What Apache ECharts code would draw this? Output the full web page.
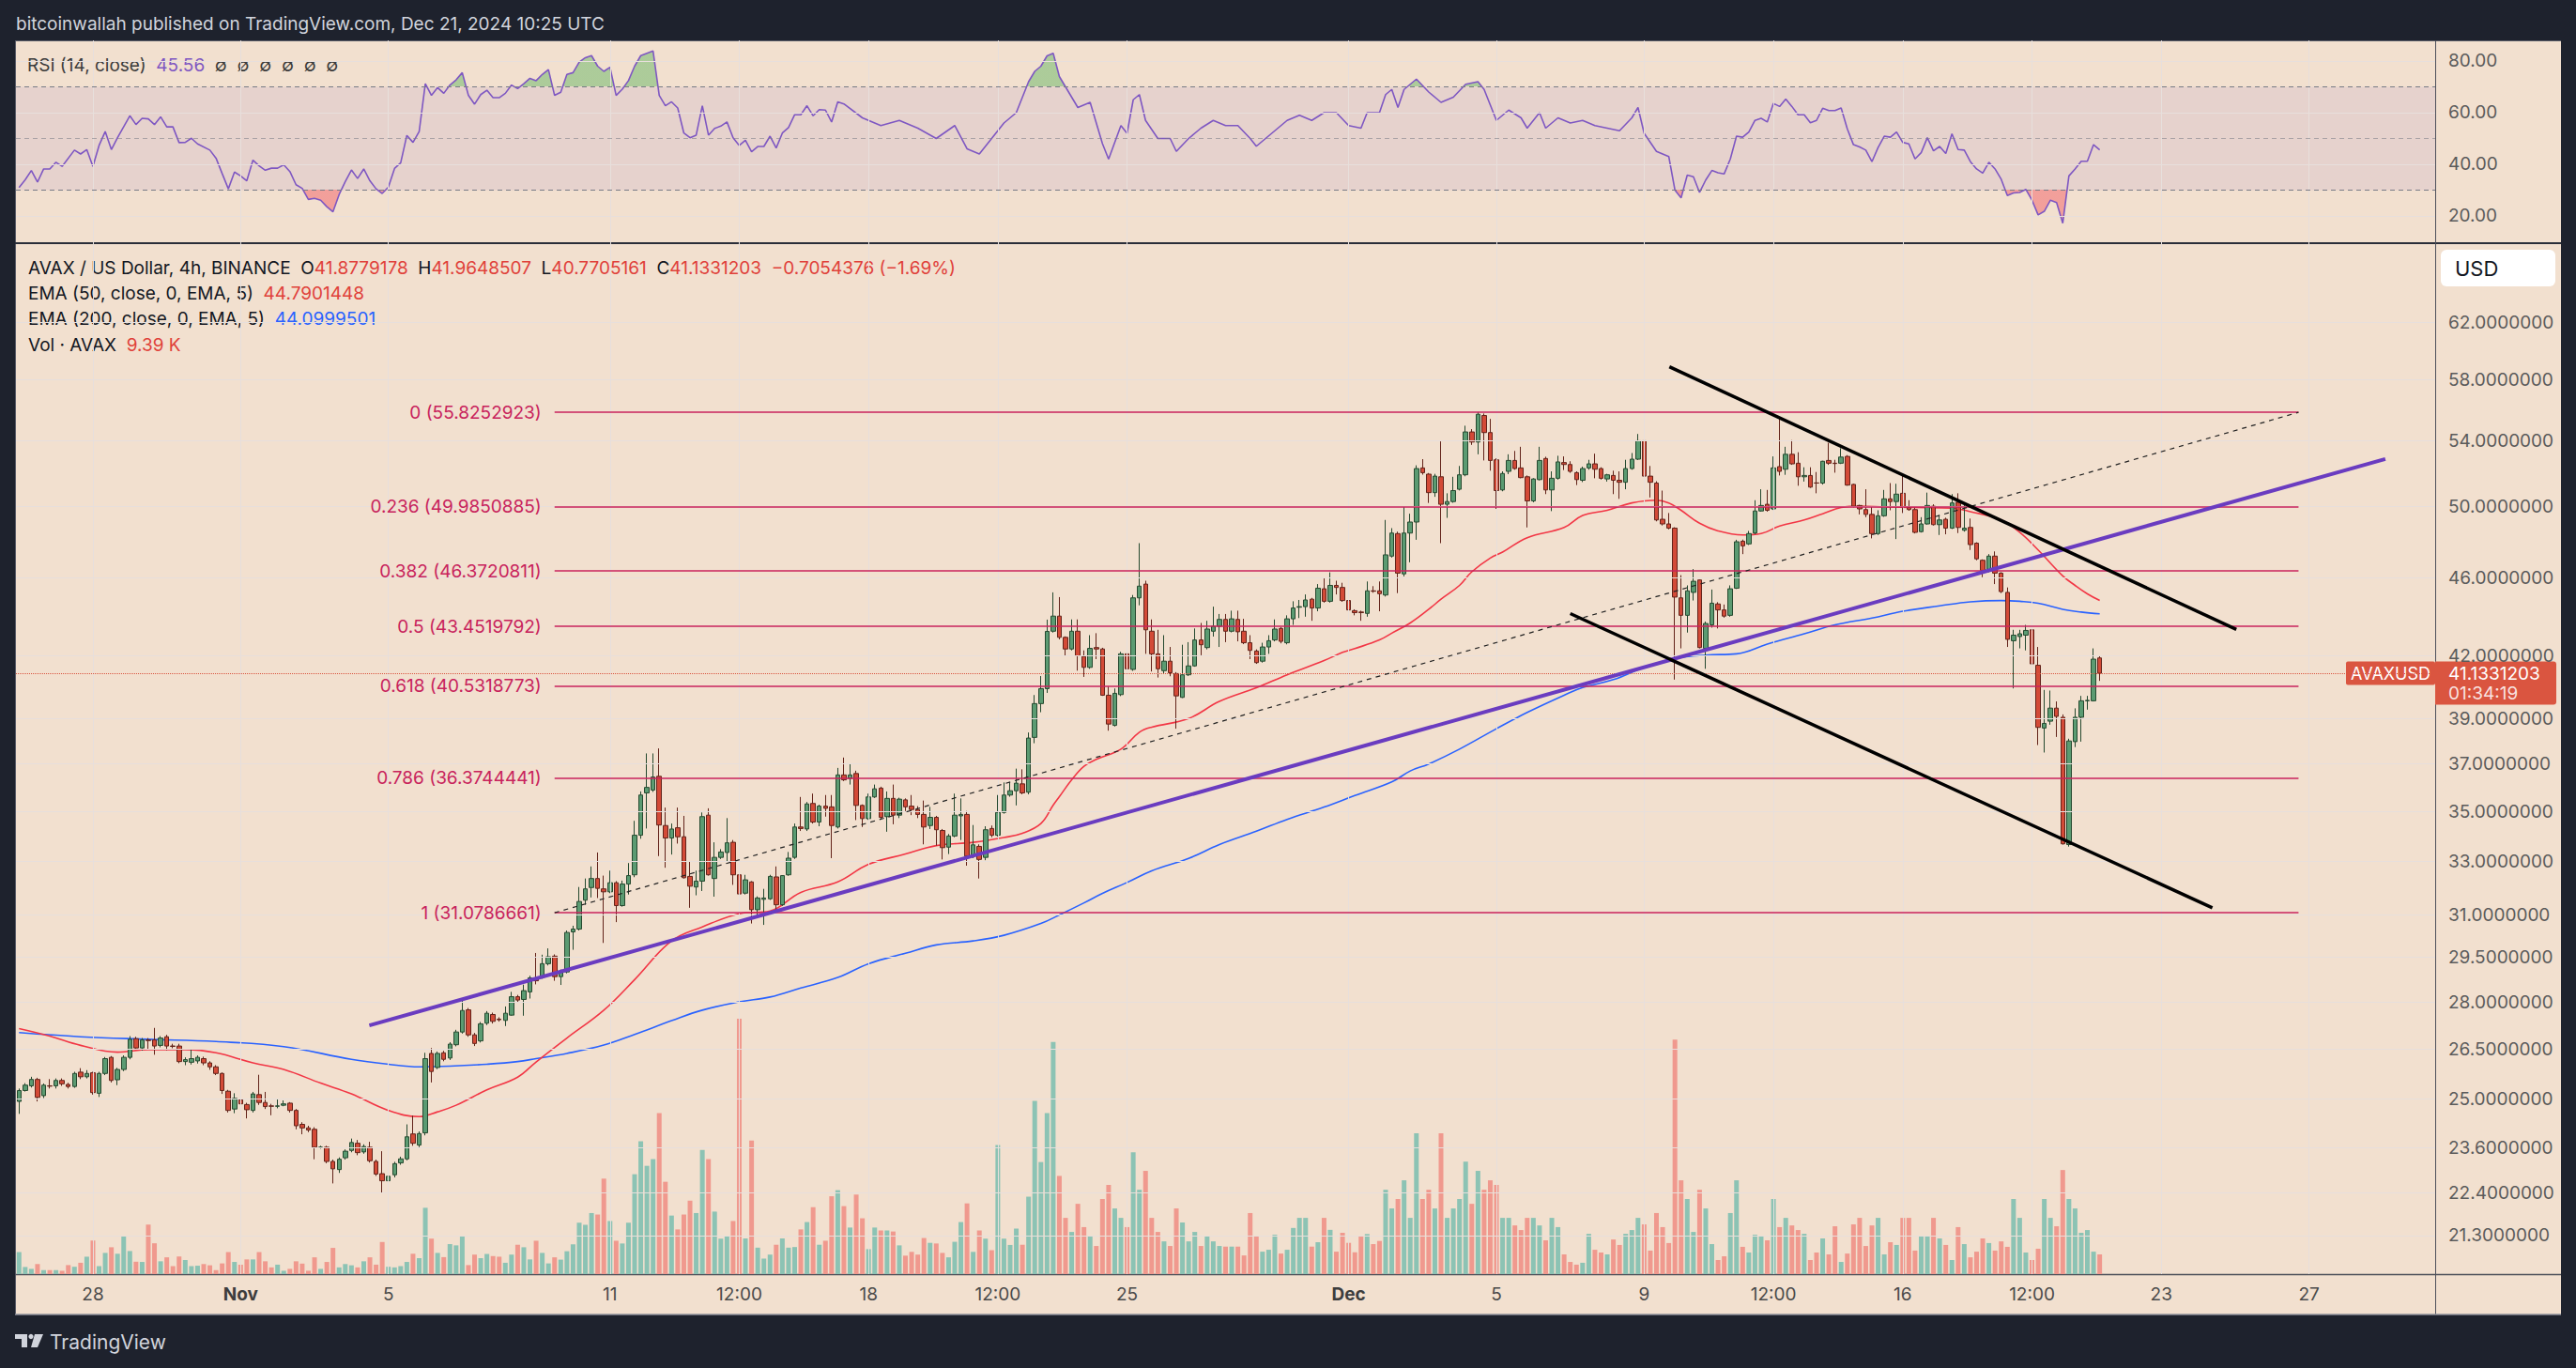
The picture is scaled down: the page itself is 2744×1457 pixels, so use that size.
<!DOCTYPE html>
<html><head><meta charset="utf-8">
<script src="https://cdn.jsdelivr.net/npm/echarts@6/dist/echarts.min.js"></script>
<style>
html,body{margin:0;padding:0;background:#1e222d;width:2744px;height:1457px;overflow:hidden;}
#panel{position:absolute;left:16px;top:43px;width:2712px;height:1357px;background:#f2e0cf;}
#c{position:absolute;left:0;top:0;width:2744px;height:1457px;}
</style>
</head><body><div id="panel"></div><div id="c"></div>
<script>
// ---------------- DATA ----------------
// 4h candles AVAX/USD, Oct 26 00:00 -> Dec 21 08:00 : [open, close, low, high]
const ohlc = [
[24.92,25.24,24.56,25.30],[25.24,25.40,25.21,25.46],[25.38,25.57,25.33,25.65],[25.57,25.04,24.92,25.62],[25.09,25.40,25.02,25.45],
[25.38,25.37,25.30,25.58],[25.38,25.54,25.30,25.60],[25.54,25.44,25.38,25.60],[25.42,25.36,25.30,25.47],[25.36,25.75,25.32,25.80],
[25.79,25.65,25.58,25.91],[25.65,25.75,25.60,25.85],[25.77,25.18,25.12,25.80],[25.16,25.75,25.05,25.80],[25.75,26.20,25.70,26.25],
[26.24,25.54,25.48,26.28],[25.56,25.87,25.40,25.92],[25.87,26.24,25.82,26.30],[26.24,26.80,26.18,26.90],[26.82,26.53,26.48,26.88],
[26.53,26.78,26.45,26.84],[26.78,26.76,26.48,26.84],[26.78,26.59,26.32,27.16],[26.61,26.84,26.55,26.90],[26.88,26.59,26.46,26.94],
[26.59,26.58,26.52,26.66],[26.59,26.11,26.06,26.66],[26.11,26.17,26.00,26.24],[26.09,26.20,26.02,26.48],[26.13,26.24,26.05,26.30],
[26.20,26.07,26.00,26.26],[26.07,25.95,25.86,26.12],[25.95,25.75,25.70,26.00],[25.75,25.24,25.14,25.78],[25.22,24.66,24.60,25.26],
[24.70,25.01,24.58,25.16],[24.97,24.85,24.78,25.05],[24.83,24.68,24.43,24.88],[24.66,25.14,24.60,25.20],[25.12,24.89,24.82,25.71],
[24.89,24.77,24.70,25.20],[24.79,24.78,24.52,24.85],[24.78,24.79,24.72,25.00],[24.81,24.85,24.78,24.95],[24.87,24.66,24.60,24.90],
[24.66,24.22,24.12,24.70],[24.26,24.16,23.98,24.32],[24.16,24.10,24.04,24.22],[24.12,23.62,23.29,24.18],[23.62,23.62,23.58,23.66],
[23.62,23.23,23.18,23.66],[23.23,23.03,22.64,23.28],[23.01,23.29,22.92,23.34],[23.33,23.51,23.28,23.56],[23.53,23.75,23.48,23.86],
[23.73,23.47,23.40,23.82],[23.49,23.64,23.44,23.70],[23.62,23.25,23.20,23.77],[23.23,22.89,22.84,23.28],[22.90,22.71,22.38,23.51],
[22.71,22.83,22.66,22.90],[22.87,23.17,22.80,23.22],[23.19,23.30,23.14,23.36],[23.30,23.91,23.26,24.26],[23.99,23.73,23.66,24.51],
[23.68,24.00,23.62,24.06],[24.02,26.20,23.95,26.38],[26.36,25.81,25.48,26.53],[25.93,26.36,25.88,26.42],[26.38,26.18,26.12,26.44],
[26.22,26.65,26.16,26.71],[26.63,27.03,26.58,27.10],[27.03,27.72,26.98,28.04],[27.74,26.94,26.88,27.80],[26.94,26.67,26.59,27.00],
[26.75,27.29,26.70,27.35],[27.31,27.63,27.25,27.70],[27.59,27.37,27.30,27.65],[27.44,27.42,27.36,27.50],[27.40,27.63,27.22,27.85],
[27.57,28.17,27.55,28.33],[28.17,28.06,28.00,28.23],[28.08,28.37,27.55,28.57],[28.33,28.80,28.11,28.87],[28.78,28.70,28.58,29.65],
[28.81,29.28,28.77,29.59],[29.28,29.52,29.22,29.81],[29.54,28.84,28.70,29.60],[28.84,29.02,28.56,29.08],[29.00,30.37,28.95,30.44],
[30.39,30.49,29.76,30.61],[30.49,31.49,30.44,32.03],[31.54,31.96,31.37,32.35],[32.01,32.35,31.64,32.81],[32.35,31.98,31.62,33.35],
[31.96,31.85,30.00,32.46],[31.85,32.19,31.80,32.65],[32.19,31.34,30.74,32.25],[31.34,32.14,31.30,32.27],[32.14,32.46,31.75,32.94],
[32.49,34.03,32.40,34.61],[34.03,35.67,33.89,35.82],[35.76,35.99,34.30,37.45],[35.88,36.43,35.80,37.45],[36.46,34.44,33.21,37.67],
[34.42,33.92,32.76,35.15],[33.92,34.28,33.27,34.50],[34.33,33.97,33.70,35.15],[33.97,32.38,32.35,34.81],[32.43,32.06,31.26,33.02],
[32.03,32.25,31.72,32.65],[32.25,34.78,31.88,34.95],[34.84,32.49,32.46,35.12],[32.35,33.16,31.67,33.75],[33.16,33.37,33.10,33.48],
[33.35,33.73,33.00,34.72],[33.75,32.49,32.11,33.84],[32.49,31.77,31.39,32.89],[31.80,32.30,31.75,32.49],[32.22,31.19,30.69,32.25],
[31.19,31.62,30.99,31.68],[31.57,31.62,30.64,31.96],[31.59,32.43,31.55,32.49],[32.41,31.37,31.11,32.81],[31.37,32.46,31.33,32.48],
[32.49,33.13,32.45,33.37],[33.16,34.36,33.10,34.50],[34.36,34.30,34.20,35.59],[34.28,35.30,34.20,35.38],[35.32,34.56,34.50,35.73],
[34.56,35.21,34.39,35.27],[35.21,35.12,34.78,35.67],[35.18,34.42,33.13,35.67],[34.36,36.52,34.30,36.82],[36.52,36.31,36.26,37.27],
[36.37,36.52,36.11,37.00],[36.58,35.24,34.64,36.70],[35.24,34.70,34.36,35.28],[34.70,35.59,34.65,35.73],[35.59,35.93,35.55,36.11],
[35.96,34.75,34.67,36.02],[34.78,35.53,34.17,35.82],[35.53,34.84,34.47,36.11],[34.84,35.50,34.72,35.56],[35.47,35.18,35.01,35.53],
[35.21,35.07,34.84,35.67],[35.07,34.87,34.72,35.21],[34.87,34.36,33.67,35.44],[34.42,34.75,34.28,35.18],[34.75,34.25,33.62,34.81],
[34.22,33.54,33.08,34.28],[33.56,34.00,33.29,34.08],[34.00,34.84,33.95,35.73],[34.81,34.87,33.84,35.53],[34.87,33.21,32.84,35.01],
[33.24,33.65,33.13,34.44],[33.59,33.08,32.35,33.67],[33.16,34.25,33.05,34.39],[34.30,34.03,33.95,34.42],[34.03,34.95,33.98,35.67],
[34.95,35.67,34.90,36.20],[35.67,35.85,35.60,36.20],[35.85,36.17,35.24,36.79],[36.14,35.76,35.70,36.76],[35.79,38.13,35.70,38.38],
[38.16,39.70,37.90,40.10],[39.70,40.40,39.30,41.00],[40.40,43.20,40.20,43.80],[43.21,43.98,43.14,45.22],[43.98,42.90,42.80,44.97],
[42.90,42.32,41.98,42.95],[42.32,43.21,42.25,43.81],[43.21,41.98,41.26,43.81],[41.95,41.42,40.96,42.25],[41.42,42.35,41.35,43.01],
[42.39,42.32,41.82,43.11],[42.32,40.09,40.06,42.38],[40.09,38.76,38.46,40.50],[38.70,40.18,38.65,40.41],[40.12,42.08,40.05,42.18],
[42.08,41.35,40.09,42.77],[41.32,44.93,41.25,45.08],[44.93,45.55,44.54,47.90],[45.66,43.28,42.08,45.84],[43.21,42.08,41.22,43.81],
[42.08,41.35,40.93,43.28],[41.26,41.72,41.13,43.01],[41.72,41.16,40.99,42.42],[41.12,40.06,38.55,41.19],[39.99,41.06,39.96,42.53],
[41.06,41.49,41.00,42.66],[41.49,42.77,41.45,43.35],[42.77,42.53,42.01,43.63],[42.39,43.32,42.30,43.74],[43.21,43.46,42.94,44.47],
[43.46,43.81,42.42,44.09],[43.81,43.21,42.66,44.09],[43.21,43.84,43.15,44.26],[43.81,43.18,42.70,44.26],[43.21,42.63,42.56,43.84],
[42.63,42.25,41.82,43.01],[42.22,41.65,41.59,42.30],[41.72,42.42,41.65,42.63],[42.42,42.73,42.08,43.01],[42.77,43.32,42.70,43.81],
[43.35,42.70,42.60,43.42],[42.63,43.84,42.55,44.02],[43.84,44.40,43.53,44.75],[44.44,44.47,43.88,44.82],[44.47,44.82,43.95,45.11],
[44.86,44.40,43.74,44.93],[44.40,45.44,44.23,45.66],[45.41,44.75,44.68,45.99],[44.75,45.59,44.68,46.29],[45.59,45.48,45.11,45.84],
[45.48,44.79,44.72,45.73],[44.79,44.30,43.88,44.90],[44.26,44.16,44.02,44.33],[44.19,44.16,43.74,44.26],[44.12,45.30,43.95,45.80],
[45.30,45.28,45.20,45.55],[45.30,45.15,44.23,45.80],[45.08,47.25,45.00,49.22],[47.18,48.47,47.10,48.75],[48.44,46.25,45.18,48.55],
[46.21,48.47,46.07,50.02],[48.47,49.10,46.84,49.58],[49.10,52.27,48.09,52.47],[52.31,52.02,51.90,52.85],[51.93,50.82,50.21,52.00],
[50.82,51.81,50.57,51.95],[51.77,50.13,47.90,53.96],[50.13,50.29,49.34,50.78],[50.29,50.94,50.22,51.77],[51.02,51.89,50.95,52.43],
[51.89,54.56,51.80,54.96],[54.56,53.92,53.74,54.74],[53.92,55.70,53.15,55.84],[55.62,54.52,52.77,55.75],[54.52,52.77,52.14,55.40],
[52.81,50.94,49.86,52.90],[50.98,51.97,50.90,52.10],[52.10,52.77,51.93,53.15],[52.77,52.27,52.20,53.36],[52.31,51.72,51.68,53.62],
[51.77,50.33,48.79,51.85],[50.33,51.64,50.25,51.68],[51.60,52.77,51.55,53.62],[52.89,50.98,50.73,53.00],[50.98,51.68,49.73,52.10],
[51.68,52.68,51.60,53.06],[52.64,52.52,52.18,53.02],[52.52,52.10,52.01,52.72],[52.02,51.60,51.27,52.10],[51.56,52.27,51.45,52.39],
[52.31,52.56,52.20,52.81],[52.56,52.23,51.68,53.19],[52.27,51.68,51.60,52.35],[51.64,51.89,51.48,51.95],[51.85,51.56,50.73,52.14],
[51.56,51.44,50.45,52.10],[51.44,52.27,51.02,52.81],[52.27,52.85,52.20,53.23],[52.85,54.00,52.80,54.43],[54.00,51.81,51.31,54.17],
[51.81,51.44,50.53,52.43],[51.39,49.22,49.14,51.50],[49.26,48.99,48.90,50.94],[48.99,48.75,48.68,49.62],[48.75,44.97,40.83,48.80],
[44.93,44.02,42.35,46.14],[44.02,45.30,43.14,45.59],[45.22,45.81,44.79,46.47],[45.88,42.39,42.35,45.90],[42.35,43.60,41.35,43.70],
[43.53,44.65,43.39,45.37],[44.61,44.30,43.35,44.70],[44.30,43.98,43.90,44.58],[44.02,45.41,43.95,45.59],[45.44,47.98,45.40,48.09],
[48.01,47.75,47.29,48.10],[47.86,48.44,47.80,48.59],[48.47,49.74,48.40,50.37],[49.74,50.06,49.70,51.02],[50.13,49.78,49.70,50.98],
[49.86,52.31,49.80,53.02],[52.39,52.10,51.85,55.40],[52.23,53.15,51.89,53.62],[53.15,52.56,52.50,54.04],[52.60,51.77,51.23,53.28],
[51.77,51.85,51.48,52.35],[51.85,51.15,51.10,52.35],[51.40,51.39,50.78,52.06],[51.39,52.72,51.30,52.75],[52.77,52.60,52.50,53.87],
[52.60,52.58,52.02,52.81],[52.60,52.98,52.55,53.53],[53.02,51.27,51.23,53.10],[51.31,50.02,49.95,51.35],[50.06,49.86,49.54,50.10],
[49.82,49.54,49.38,51.02],[49.54,48.44,48.17,49.98],[48.44,49.46,48.36,49.78],[49.46,50.45,49.40,50.98],[50.45,50.29,49.78,51.39],
[50.29,50.73,48.13,51.35],[50.78,49.98,49.62,51.85],[49.94,49.82,49.75,50.37],[49.82,48.51,48.45,49.94],[48.55,48.99,48.50,49.38],
[48.99,50.06,48.95,50.82],[50.02,48.95,48.90,50.13],[48.95,49.22,48.36,49.50],[49.26,48.75,48.40,49.35],[48.75,50.21,48.70,50.73],
[50.25,48.79,48.47,50.78],[48.63,48.75,48.55,50.09],[48.79,47.82,47.52,49.30],[47.90,47.03,46.95,47.95],[46.95,46.40,46.03,47.00],
[46.40,47.18,46.30,47.29],[47.18,46.25,45.66,47.44],[46.25,45.26,45.18,46.30],[45.22,42.80,42.42,45.48],[42.73,43.01,40.41,43.28],
[42.94,43.08,42.35,43.28],[43.01,43.25,42.25,43.53],[43.28,41.59,40.93,43.35],[41.52,38.61,37.82,42.42],[38.58,38.79,37.49,40.34],
[38.89,39.49,38.73,40.31],[39.49,39.11,38.18,39.80],[39.07,33.69,33.66,39.20],[33.66,38.00,33.58,38.10],[37.97,39.07,37.73,39.48],
[39.07,39.83,37.97,40.06],[39.83,39.85,39.42,40.06],[39.83,41.82,39.80,42.35],[41.8779178,41.1331203,40.7705161,41.9648507]
];
// volume (K AVAX) per candle
const volume = [
10.5,3.4,2.5,4.8,1.9,1.9,1.9,1.6,4.3,3.5,5.4,8.3,16.0,3.8,10.1,12.8,9.7,18.2,11.0,5.9,
5.8,23.6,14.7,6.1,8.0,3.8,8.4,6.7,3.8,4.0,4.8,4.2,1.9,5.1,10.5,5.8,4.5,7.0,7.0,10.5,
6.1,3.2,4.5,1.6,2.5,6.1,5.0,1.6,8.0,2.5,5.8,12.5,3.2,4.8,4.2,3.2,6.1,8.0,4.5,15.3,
3.5,3.2,3.8,5.8,9.7,7.6,31.6,16.9,10.1,8.1,14.3,13.7,18.2,4.3,9.3,7.6,9.6,8.6,8.3,5.4,
9.3,14.0,12.8,7.0,15.9,
10.1,5.1,8.0,6.9,10.9,14.2,24.5,23.5,29.1,28.4,45.5,25.3,15.9,14.6,24.5,47.6,63.3,51.6,54.8,76.7,
44.0,27.9,21.3,28.4,35.0,29.1,59.2,54.8,29.8,16.9,18.2,25.3,121.7,17.0,63.7,12.6,7.4,9.3,14.0,17.0,
12.6,12.9,21.3,24.8,31.9,14.0,15.9,37.1,40.0,32.4,22.2,37.9,26.6,11.9,22.2,20.8,20.8,20.3,13.7,8.8,
10.6,9.3,17.2,14.9,14.6,10.1,8.0,15.4,24.8,33.7,10.6,20.8,16.9,11.4,61.5,16.9,13.9,21.7,14.0,36.9,
82.5,53.4,76.7,110.6,46.8,
26.8,20.1,33.5,22.4,17.9,13.4,35.8,42.5,31.3,26.8,22.4,58.1,40.2,49.2,26.8,20.1,15.6,13.4,31.3,24.6,
15.6,20.1,13.4,17.9,15.6,13.4,
13.1,13.1,13.1,8.9,29.1,17.9,10.7,11.6,18.8,9.8,11.6,22.0,26.8,26.8,13.1,15.2,26.8,21.1,10.7,19.7,
14.9,10.4,17.9,19.1,14.3,15.8,
40.2,31.3,35.8,44.7,26.8,67.1,35.8,40.2,31.3,67.1,26.8,31.3,35.8,53.6,33.5,49.2,40.2,44.7,42.5,26.8,26.8,
23.2,21.0,26.8,26.8,23.2,16.1,26.8,22.4,9.4,5.8,4.5,5.4,19.2,11.6,10.3,9.4,16.5,13.9,19.2,21.0,
26.8,23.7,11.2,29.1,22.4,14.8,111.8,44.7,35.8,20.1,40.2,31.3,14.3,6.7,8.5,29.1,44.7,13.0,10.3,18.8,
17.9,16.1,35.8,22.4,26.8,23.2,21.0,19.2,6.7,10.3,17.0,9.4,22.8,5.8,9.8,23.7,26.8,13.4,23.2,26.8,
9.4,15.2,13.9,26.8,26.8,11.2,18.3,18.3,26.8,17.0,13.9,6.7,22.4,14.3,8.0,10.7,17.0,14.8,11.2,15.6,
13.0,35.8,26.8,10.3,6.7,12.1,35.8,26.8,22.8,49.6,35.8,31.3,19.7,21.0,10.7,9.39
];
// EMA 50 / EMA 200: [bar index, value]
const ema50 = [[0,27.14],[5,26.90],[10,26.61],[16,26.40],[21,26.48],[27,26.48],[32,26.38],[38,26.07],[43,25.87],[49,25.46],[54,25.14],[60,24.66],[65,24.48],[68,24.62],[71,24.81],[76,25.26],[81,25.64],[84,26.10],[89,26.84],[95,27.73],[100,28.74],[106,30.07],[111,30.57],[117,31.04],[122,31.14],[127,31.83],[133,32.22],[138,32.89],[144,33.29],[149,33.62],[155,33.75],[160,33.94],[163,34.11],[166,34.50],[168,35.25],[169,35.60],[171,36.31],[173,36.89],[175,37.19],[179,37.64],[182,38.39],[184,38.62],[190,39.01],[195,39.80],[201,40.44],[206,41.06],[212,41.75],[215,42.15],[217,42.34],[221,42.77],[223,43.11],[226,43.63],[229,44.33],[231,44.86],[234,45.59],[236,46.32],[239,47.07],[241,47.40],[245,48.21],[251,48.79],[254,49.48],[258,49.78],[262,50.21],[266,50.37],[268,50.21],[270,49.78],[273,49.03],[276,48.59],[280,48.36],[283,48.44],[286,48.87],[290,49.22],[293,49.58],[296,49.94],[299,50.02],[303,49.98],[308,49.94],[314,49.90],[317,49.70],[322,49.22],[325,48.51],[328,47.52],[332,46.10],[334,45.59],[336,45.14],[338,44.79]];
const ema200 = [[0,27.01],[10,26.88],[21,26.80],[32,26.73],[43,26.57],[54,26.18],[60,26.03],[65,25.95],[70,25.97],[76,26.03],[81,26.11],[84,26.20],[89,26.36],[95,26.62],[100,26.95],[106,27.39],[111,27.73],[117,28.00],[122,28.16],[127,28.46],[133,28.81],[138,29.28],[144,29.64],[149,29.93],[155,30.07],[160,30.27],[166,30.69],[169,31.00],[173,31.44],[176,31.79],[180,32.20],[184,32.64],[190,33.12],[195,33.66],[201,34.19],[206,34.67],[212,35.17],[217,35.65],[223,36.22],[226,36.69],[229,36.99],[234,37.64],[240,38.55],[245,39.29],[251,40.09],[254,40.45],[259,40.83],[264,41.42],[269,41.85],[274,42.02],[279,42.08],[284,42.56],[290,43.08],[295,43.53],[301,43.88],[306,44.23],[312,44.51],[317,44.72],[322,44.79],[325,44.75],[328,44.65],[332,44.33],[335,44.19],[338,44.10]];
// RSI(14): [bar index, value]
const rsi = [[0,31],[1,34],[2,37.6],[3,33.1],[4,38.2],[5,38.2],[6,40.8],[7,39.2],[9,45.5],[10,44.0],[11,45.7],[12,39.2],[13,47.3],[14,52.7],[15,45.7],[16,50.3],[18,58.8],[19,55.4],[20,57.8],[21,57.6],[22,55.4],[23,58.4],[24,54.5],[25,54.5],[26,48.4],[27,48.5],[28,50.1],[29,47.9],[31,45.5],[32,42.4],[33,36.4],[34,30.5],[35,37.0],[36,35.5],[37,33.6],[38,41.6],[39,39.4],[40,37.7],[41,38.5],[42,38.5],[43,39.8],[44,37.2],[45,32.1],[46,30.7],[47,26.4],[48,26.8],[49,26.1],[50,23.6],[51,21.6],[52,28.3],[53,33.3],[54,37.8],[55,34.5],[56,38.2],[57,33.6],[58,30.5],[59,28.7],[60,31.2],[61,38.4],[62,40.6],[63,51.2],[64,48.5],[65,52.7],[66,71.2],[67,66.7],[68,69.7],[69,67.5],[70,70.7],[71,72.7],[72,75.5],[73,66.7],[74,63.3],[75,67.0],[76,68.7],[77,65.8],[78,65.8],[79,67.5],[80,70.7],[81,69.3],[82,71.2],[83,73.3],[84,72.4],[85,74.8],[86,76.7],[87,66.7],[88,67.9],[89,74.8],[90,75.5],[91,79.6],[92,81.3],[93,82.1],[94,78.0],[95,76.0],[96,77.6],[97,66.7],[98,69.1],[99,72.4],[100,78.0],[101,82.1],[102,83.0],[103,83.9],[104,66.7],[105,62.7],[106,64.2],[107,61.8],[108,52.1],[109,50.3],[110,51.3],[111,62.7],[112,51.3],[113,53.9],[114,54.8],[115,56.4],[116,50.3],[117,47.3],[118,49.3],[119,44.9],[120,46.9],[121,46.9],[122,50.9],[123,46.3],[124,52.1],[125,54.2],[126,59.2],[127,59.2],[128,62.7],[129,58.8],[130,61.2],[131,61.0],[132,56.4],[133,64.2],[134,63.4],
[137,58],[140,55],[143,57],[146,54],[149,50],[152,55],[154,46],[156,44],[158,50],[160,56],[162,60],[164,72],[165,76],[166,78],[167,82],[168,83],[169,74],[170,70],[172,62],[174,64],[176,48],[177,42],[179,55],[180,52],[181,65],[182,67],[183,57],[185,50],[187,50],[188,45],[190,50],[192,54],[194,57],[196,55],[198,55],[200,50],[201,47],[203,51],[206,57],[208,59],[210,57],[212,60],[214,60],[216,55],[218,54],[219,60],[221,60],[222,67],[223,69],[224,62],[225,69],[227,73],[229,68],[231,64],[233,66],[235,71],[237,72],[238,69],[239,63],[240,57],[242,61],[244,58],[245,54],[247,60],[248,54],[250,58],[252,56],[254,57],[256,55],[258,54],[260,53],[262,58],[263,62],[264,52],[266,45],[268,43],[269,30],[270,27],
[271,35.8],[272,35.2],[273,29.1],[274,33.9],[275,37.6],[276,36.7],[277,36.3],[278,42.1],[279,50.9],[280,50.5],[281,52.5],[282,57.0],[283,57.8],[284,56.4],[285,63.6],[286,62.4],[287,65.3],[288,62.4],[289,59.2],[290,59.2],[291,56.1],[292,57.0],[293,61.7],[294,60.8],[295,60.8],[296,61.8],[297,53.7],[298,47.6],[299,46.7],[300,45.5],[301,41.0],[302,46.5],[303,50.9],[304,50.5],[305,52.5],[306,48.5],[307,47.9],[308,42.1],[309,44.5],[310,50.3],[311,45.2],[312,46.9],[313,44.2],[314,51.8],[315,45.7],[316,45.5],[317,41.0],[318,38.2],[319,36.6],[320,40.8],[321,38.2],[322,34.2],[323,27.9],[324,28.9],[325,29.1],[326,30.3],[327,26.1],[328,20.4],[329,21.8],[330,26.1],[331,25.2],[332,17.2],[333,35.5],[334,38.2],[335,41.2],[336,41.2],[337,47.6],[338,45.56]];

// time axis ticks (bar index -> label)
const tickIdx    = [12,36,60,96,117,138,159,180,216,240,264,285,306,327,348,372];
const tickLabels = ['28','Nov','5','11','12:00','18','12:00','25','Dec','5','9','12:00','16','12:00','23','27'];
const monthLabels = ['Nov','Dec'];
const priceTicks = [62,58,54,50,46,42,39,37,35,33,31,29.5,28,26.5,25,23.6,22.4,21.3];
const rsiTicks = [80,60,40,20];
const rsiLevels = [70,50,30];
// Fibonacci retracement
const fibLevels = [0,0.236,0.382,0.5,0.618,0.786,1];
const fibPrices = [55.8252923,49.9850885,46.3720811,43.4519792,40.5318773,36.3744441,31.0786661];
const fibSpan = [87,370.3];
// drawn trend lines: [bar index, price]
const purpleLine   = [[56.9,27.24],[384.4,52.86]];
const channelUpper = [[268.1,58.88],[360.2,43.30]];
const channelLower = [[252.0,44.11],[356.3,31.26]];
const fibDiagonal  = [[87,31.0786661],[370.3,55.8252923]];
const lastPrice = 41.1331203;
const N_SLOTS = 393;

// ---------------- CHART ----------------
const FONT = 'Inter, "Noto Sans", Roboto, sans-serif';
const GRID = '#e7dfdc';
const FIB = '#c8235c';
const UPF = '#5b9b72', UPB = '#25492f', DNF = '#d34a37', DNB = '#62231a';
const cats = Array.from({length:N_SLOTS}, (_, i) => 'b' + i);
const labelAt = {}; tickIdx.forEach((t,k)=>{ labelAt[t] = tickLabels[k]; });

const volData = volume.map((v,i)=>{
  const c = ohlc[i]; const up = c[1] >= c[0];
  return {value:v, itemStyle:{color: up ? '#8cc3b4' : '#f0998e'}};
});

const series = [];
series.push({type:'line', xAxisIndex:1, yAxisIndex:0, data:[], z:1, silent:true,
  markLine:{silent:true, symbol:['none','none'], animation:false,
    lineStyle:{color:GRID, width:1, type:'solid'}, label:{show:false},
    emphasis:{disabled:true},
    data:[...tickIdx.map(i=>({xAxis:i})),
          ...priceTicks.map(p=>({yAxis:p, label:{show:true, position:'end', distance:14, formatter:p.toFixed(7), color:'#5b5b5b', fontSize:19, fontFamily:FONT}}))]}});
series.push({type:'bar', xAxisIndex:2, yAxisIndex:1, data:volData, barWidth:5, z:2, silent:true});
series.push({type:'line', xAxisIndex:1, yAxisIndex:0, data:ema200, smooth:0.4, showSymbol:false, z:3, silent:true, lineStyle:{color:'#2962ff', width:1.6}});
series.push({type:'line', xAxisIndex:1, yAxisIndex:0, data:ema50, smooth:0.4, showSymbol:false, z:3, silent:true, lineStyle:{color:'#f23645', width:1.6}});
series.push({type:'candlestick', xAxisIndex:0, yAxisIndex:0, data:ohlc, barWidth:5, z:4, silent:true,
  itemStyle:{color:UPF, color0:DNF, borderColor:UPB, borderColor0:DNB, borderWidth:1},
  markLine:{silent:true, symbol:['none','none'], label:{show:false}, animation:false,
    lineStyle:{color:'#da5540', width:1, type:'dotted'}, data:[{yAxis:lastPrice}]}});
series.push({type:'line', xAxisIndex:1, yAxisIndex:0, data:[], z:5, silent:true,
  markLine:{silent:true, symbol:['none','none'], animation:false,
    lineStyle:{color:FIB, width:1.5, type:'solid'},
    label:{show:true, position:'start', distance:14, formatter:'{b}', color:FIB, fontSize:19, fontFamily:FONT},
    data: fibLevels.map((lv,k)=>[{name: lv + ' (' + fibPrices[k].toFixed(7) + ')', coord:[fibSpan[0], fibPrices[k]]},{coord:[fibSpan[1], fibPrices[k]]}])}});
series.push({type:'line', xAxisIndex:1, yAxisIndex:0, data:fibDiagonal, showSymbol:false, z:5, silent:true, lineStyle:{color:'#222', width:1.2, type:[5,5]}});
series.push({type:'line', xAxisIndex:1, yAxisIndex:0, data:purpleLine, showSymbol:false, z:6, silent:true, lineStyle:{color:'#6a3cc0', width:4}});
series.push({type:'line', xAxisIndex:1, yAxisIndex:0, data:channelUpper, showSymbol:false, z:6, silent:true, lineStyle:{color:'#000', width:3.5}});
series.push({type:'line', xAxisIndex:1, yAxisIndex:0, data:channelLower, showSymbol:false, z:6, silent:true, lineStyle:{color:'#000', width:3.5}});
series.push({type:'line', xAxisIndex:3, yAxisIndex:2, data:[], z:1, silent:true,
  markArea:{silent:true, itemStyle:{color:'rgba(126,87,194,0.1)'}, data:[[{yAxis:30},{yAxis:70}]]},
  markLine:{silent:true, symbol:['none','none'], animation:false,
    lineStyle:{color:GRID, width:1, type:'solid'}, label:{show:false},
    data:[...tickIdx.map(i=>({xAxis:i})),
          ...rsiTicks.map(r=>({yAxis:r, label:{show:true, position:'end', distance:14, formatter:r.toFixed(2), color:'#5b5b5b', fontSize:19, fontFamily:FONT}})),
          ...rsiLevels.map(r=>({yAxis:r, lineStyle:{color: r===50 ? 'rgba(120,123,134,0.55)' : '#787b86', width:1.2, type:[5,4]}}))]}});
const rsiFillIndex = series.length;
series.push({type:'line', xAxisIndex:3, yAxisIndex:2, data:rsi, showSymbol:false, z:2, silent:true,
  lineStyle:{width:0, opacity:0}, areaStyle:{origin:50, opacity:1}});
series.push({type:'line', xAxisIndex:3, yAxisIndex:2, data:rsi, showSymbol:false, z:3, silent:true,
  lineStyle:{color:'#7e57c2', width:1.6}});

const option = {
  animation:false,
  backgroundColor:'transparent',
  grid:[
    {left:17, right:150, top:259, height:1098},
    {left:17, right:150, top:1085, height:272},
    {left:17, right:150, top:43, height:216}
  ],
  xAxis:[
    {type:'category', gridIndex:0, data:cats, boundaryGap:true,
     axisLine:{show:false}, axisTick:{show:false}, splitLine:{show:false},
     axisLabel:{interval:(i)=>labelAt[i]!==undefined, margin:12,
       formatter:(v,i)=>{const t=labelAt[i]; return monthLabels.indexOf(t)>=0 ? '{m|'+t+'}' : '{n|'+t+'}';},
       rich:{m:{fontSize:19, fontWeight:'bold', color:'#3d3d3d', fontFamily:FONT}, n:{fontSize:19, color:'#4a4a4a', fontFamily:FONT}}}},
    {type:'value', gridIndex:0, min:-0.5, max:N_SLOTS-0.5, show:false},
    {type:'category', gridIndex:1, data:cats, show:false},
    {type:'value', gridIndex:2, min:-0.5, max:N_SLOTS-0.5, show:false}
  ],
  yAxis:[
    {type:'log', logBase:10, gridIndex:0, min:20.36, max:68.05, show:false},
    {type:'value', gridIndex:1, min:0, max:'dataMax', show:false},
    {type:'value', gridIndex:2, min:9.45, max:88, show:false}
  ],
  visualMap:[{type:'piecewise', show:false, seriesIndex:rsiFillIndex, dimension:1,
    pieces:[{gt:70, color:'rgba(76,175,80,0.42)'},{gte:30, lte:70, color:'rgba(0,0,0,0)'},{lt:30, color:'rgba(242,54,69,0.38)'}]}],
  series: series
};

const chart = echarts.init(document.getElementById('c'), null, {renderer:'svg', width:2744, height:1457});
chart.setOption(option);

// ------------- annotations / chrome -------------
const py = chart.convertToPixel({yAxisIndex:0}, lastPrice);
const T = (x, y, text, size, fill, extra) => Object.assign({type:'text', x:x, y:y, silent:true,
  style:Object.assign({text:text, fill:fill, font: size + 'px ' + FONT, verticalAlign:'middle', textVerticalAlign:'middle'}, extra && extra.style || {})}, extra && extra.el || {});
const L = (x1,y1,x2,y2,color,w) => ({type:'line', silent:true, shape:{x1,y1,x2,y2}, style:{stroke:color, lineWidth:w}});

const legendRich = {
  d:{fill:'#131722', fontSize:19, fontFamily:FONT},
  r:{fill:'#e0413a', fontSize:19, fontFamily:FONT},
  b:{fill:'#2962ff', fontSize:19, fontFamily:FONT},
  p:{fill:'#7e57c2', fontSize:19, fontFamily:FONT},
  g:{fill:'#3c3c3c', fontSize:19, fontFamily:FONT}
};
const RT = (x,y,text) => ({type:'text', x:x, y:y, silent:true, style:{text:text, rich:legendRich, font:'19px '+FONT, verticalAlign:'middle', textVerticalAlign:'middle'}});

const graphics = [
  L(16,43.5,2728,43.5,'#5a5d68',1),
  L(16.5,43,16.5,1400,'#5a5d68',1),
  L(16,259,2728,259,'#2a2e39',2),
  L(16,1357.5,2728,1357.5,'#4d505a',1.5),
  L(2594.5,43,2594.5,1400,'#4d505a',1),
  L(16,1400,2728,1400,'#8f929b',1.5),
  T(17, 25, 'bitcoinwallah published on TradingView.com, Dec 21, 2024 10:25 UTC', 19, '#d1d4dc'),
  RT(29, 69, '{g|RSI (14, close)}  {p|45.56}  {g|∅  ∅  ∅  ∅  ∅  ∅}'),
  RT(30, 285, '{d|AVAX / US Dollar, 4h, BINANCE}  {d|O}{r|41.8779178}  {d|H}{r|41.9648507}  {d|L}{r|40.7705161}  {d|C}{r|41.1331203}  {r|−0.7054376 (−1.69%)}'),
  RT(30, 312, '{d|EMA (50, close, 0, EMA, 5)}  {r|44.7901448}'),
  RT(30, 339, '{d|EMA (200, close, 0, EMA, 5)}  {b|44.0999501}'),
  RT(30, 367, '{d|Vol · AVAX}  {r|9.39 K}'),
  {type:'rect', silent:true, shape:{x:2600, y:266, width:122, height:39, r:6}, style:{fill:'#ffffff'}},
  T(2615, 286, 'USD', 22, '#131722'),
  {type:'rect', silent:true, shape:{x:2499, y:py-12.5, width:95, height:25, r:2}, style:{fill:'#da5540'}},
  T(2546.5, py, 'AVAXUSD', 18, '#ffffff', {style:{align:'center', textAlign:'center'}}),
  {type:'rect', silent:true, shape:{x:2594, y:py-12.5, width:129, height:46, r:[0,3,3,0]}, style:{fill:'#da5540'}},
  T(2608, py, lastPrice.toFixed(7), 19, '#ffffff'),
  T(2608, py+21, '01:34:19', 19, 'rgba(255,255,255,0.85)'),
  {type:'rect', silent:true, shape:{x:16, y:1421, width:13, height:5}, style:{fill:'#d1d4dc'}},
  {type:'rect', silent:true, shape:{x:23, y:1421, width:6, height:14}, style:{fill:'#d1d4dc'}},
  {type:'circle', silent:true, shape:{cx:33, cy:1423.5, r:2.6}, style:{fill:'#d1d4dc'}},
  {type:'polygon', silent:true, shape:{points:[[37,1421],[46,1421],[40,1435],[33,1435]]}, style:{fill:'#d1d4dc'}},
  T(53, 1429, 'TradingView', 21, '#d1d4dc')
];
chart.setOption({graphic: graphics});
</script>
</body></html>
